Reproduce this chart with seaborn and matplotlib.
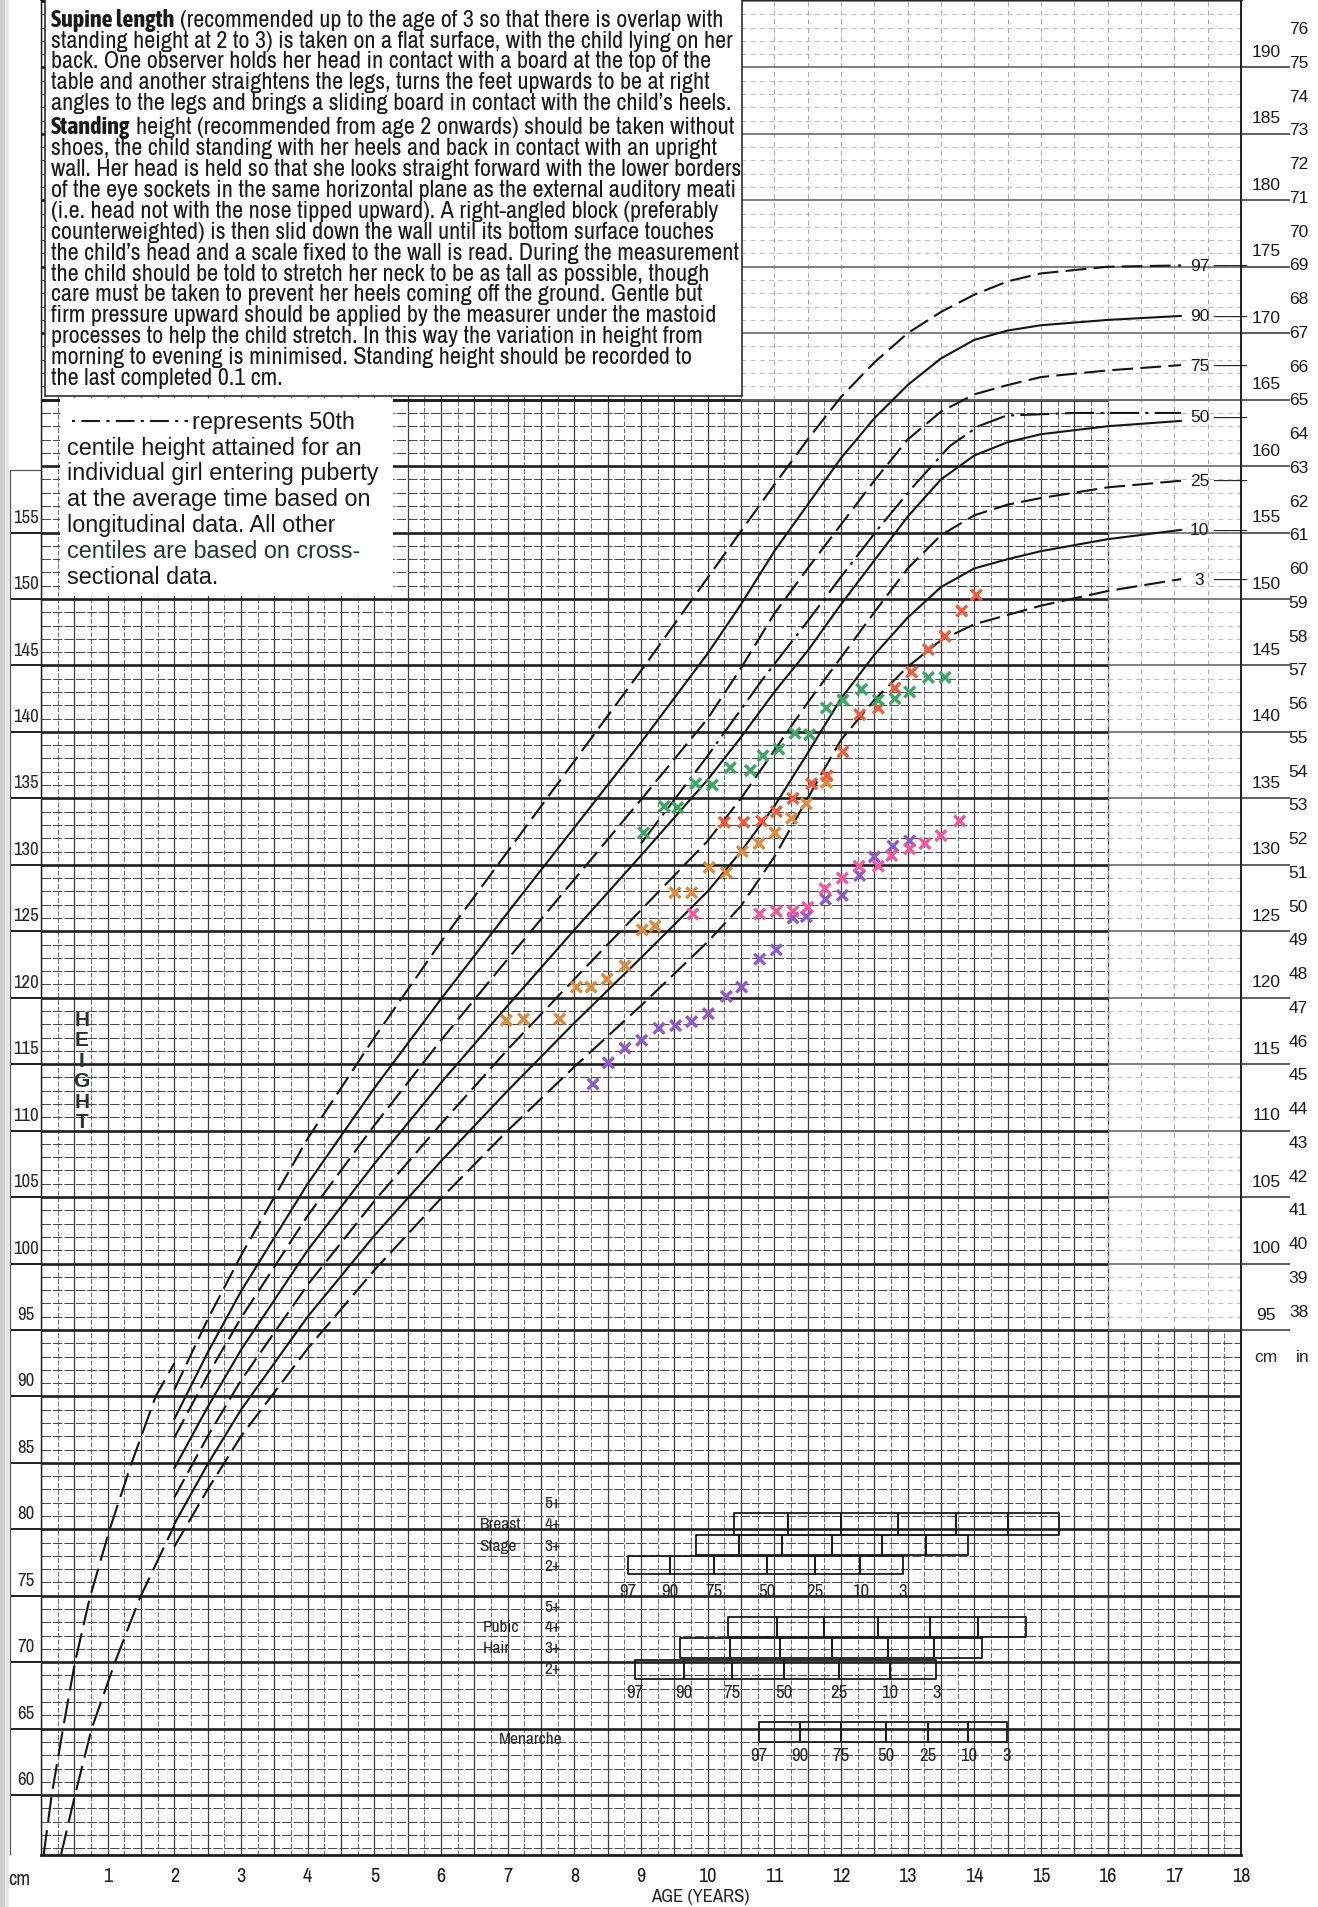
import numpy as np
import pandas as pd
import matplotlib
matplotlib.use("Agg")
import matplotlib.pyplot as plt
from matplotlib import font_manager
from matplotlib.font_manager import FontProperties
from matplotlib.patches import Rectangle
from matplotlib.lines import Line2D
import seaborn as sns

# ---------------------------------------------------------------------------
# Data
# ---------------------------------------------------------------------------
CENTILES = [97, 90, 75, 50, 25, 10, 3]
STD_AGE = [2, 2.5, 3, 4, 5, 6, 7, 8, 9, 10, 10.5, 11, 11.5, 12, 12.5, 13, 13.5, 14, 14.5, 15, 16, 17.1]
C97 = [90.5, 95.8, 100.6, 109.4, 117.0, 124.2, 131.0, 137.8, 144.6, 151.6, 155.1, 158.6, 162.0, 165.2, 167.8, 170.0, 171.6, 172.9, 173.9, 174.5, 175.0, 175.1]
C90 = [88.3, 93.3, 97.9, 106.0, 113.2, 119.9, 126.4, 132.8, 139.2, 145.9, 149.6, 153.6, 157.1, 160.6, 163.6, 166.1, 168.1, 169.5, 170.2, 170.6, 171.0, 171.3]
C75 = [86.9, 91.6, 95.9, 103.6, 110.4, 116.8, 122.9, 128.9, 134.9, 141.0, 144.8, 148.9, 152.3, 155.6, 158.9, 162.0, 164.1, 165.4, 166.1, 166.7, 167.2, 167.6]
C50 = [84.6, 89.2, 93.5, 101.0, 107.5, 113.6, 119.4, 125.1, 130.7, 136.4, 139.6, 143.0, 146.1, 149.6, 152.9, 156.2, 159.0, 160.8, 161.8, 162.4, 163.0, 163.4]
C25 = [82.4, 87.0, 91.2, 98.4, 104.7, 110.5, 116.1, 121.4, 126.6, 131.8, 135.0, 138.6, 142.2, 145.6, 149.0, 152.3, 154.8, 156.3, 157.1, 157.6, 158.4, 158.9]
C10 = [80.4, 84.9, 89.0, 96.0, 102.1, 107.7, 113.0, 118.1, 123.0, 128.0, 131.0, 134.4, 138.4, 142.5, 145.8, 148.6, 150.9, 152.3, 153.0, 153.6, 154.5, 155.2]
C3 = [78.7, 83.0, 87.0, 93.6, 99.5, 104.9, 110.0, 114.8, 119.4, 124.2, 126.9, 130.6, 135.0, 139.4, 142.4, 144.9, 146.9, 148.1, 148.8, 149.5, 150.6, 151.5]

# longitudinal 50th centile (dash-dot)
LONG_AGE = [9.0, 10.0, 10.83, 11.48, 12.02, 12.56, 13.09, 13.63, 14.06, 14.48, 15.5, 17.1]
LONG_CM = [131.6, 138.2, 144.0, 148.2, 151.8, 155.3, 158.5, 161.5, 163.0, 163.8, 164.0, 164.0]

# supine length 97th and 3rd
SUP97_AGE = [0.04, 0.16, 0.33, 0.51, 0.73, 1.03, 1.36, 1.72, 2.0]
SUP97_CM = [55.5, 60.0, 65.0, 70.0, 74.8, 80.0, 85.0, 90.0, 92.5]
SUP3_AGE = [0.30, 0.51, 0.76, 1.11, 1.48, 2.0]
SUP3_CM = [55.5, 60.0, 65.0, 70.0, 74.8, 80.3]

# plotted measurements of five children
PURPLE_AGE = [8.28, 8.51, 8.76, 9.01, 9.27, 9.52, 9.76, 10.01, 10.28, 10.51, 10.78, 11.03, 11.28, 11.48, 11.77, 12.02, 12.28, 12.50, 12.78, 13.03]
PURPLE_CM = [113.5, 115.1, 116.2, 116.8, 117.7, 117.9, 118.2, 118.8, 120.1, 120.8, 122.9, 123.6, 126.0, 126.1, 127.4, 127.7, 129.2, 130.6, 131.4, 131.8]
PINK_AGE = [9.78, 10.78, 11.03, 11.28, 11.50, 11.76, 12.02, 12.27, 12.56, 12.76, 13.03, 13.26, 13.50, 13.78]
PINK_CM = [126.3, 126.3, 126.5, 126.5, 126.8, 128.2, 129.0, 129.9, 129.9, 130.7, 131.2, 131.6, 132.2, 133.3]
TAN_AGE = [6.98, 7.24, 7.78, 8.03, 8.25, 8.49, 8.76, 9.02, 9.21, 9.51, 9.76, 10.02, 10.28, 10.52, 10.77, 11.01, 11.26, 11.48, 11.78]
TAN_CM = [118.3, 118.4, 118.4, 120.8, 120.8, 121.4, 122.4, 125.1, 125.4, 127.9, 127.9, 129.8, 129.4, 131.0, 131.6, 132.4, 133.5, 134.6, 136.2]
RED_AGE = [10.25, 10.54, 10.81, 11.03, 11.28, 11.56, 11.79, 12.03, 12.28, 12.56, 12.81, 13.06, 13.31, 13.56, 13.81, 14.03]
RED_CM = [133.2, 133.2, 133.3, 134.0, 135.0, 136.1, 136.7, 138.5, 141.3, 141.8, 143.3, 144.5, 146.2, 147.2, 149.1, 150.3]
GREEN_AGE = [9.04, 9.35, 9.55, 9.82, 10.07, 10.34, 10.64, 10.83, 11.07, 11.31, 11.53, 11.78, 12.03, 12.31, 12.56, 12.81, 13.03, 13.31, 13.56]
GREEN_CM = [132.4, 134.4, 134.3, 136.1, 136.0, 137.3, 137.1, 138.2, 138.7, 139.9, 139.8, 141.8, 142.4, 143.2, 142.4, 142.5, 143.0, 144.1, 144.1]

# pubertal stage bars: centile ages (97 ... 3) per row
BREAST_4 = [10.40, 11.20, 12.00, 12.85, 13.72, 14.51, 15.27]
BREAST_3 = [9.82, 10.47, 11.12, 11.87, 12.61, 13.28, 13.91]
BREAST_2 = [8.81, 9.44, 10.10, 10.89, 11.61, 12.29, 12.93]
PUBIC_4 = [10.31, 11.04, 11.75, 12.55, 13.34, 14.06, 14.77]
PUBIC_3 = [9.58, 10.34, 11.08, 11.87, 12.70, 13.39, 14.11]
PUBIC_2 = [8.91, 9.64, 10.36, 11.15, 11.97, 12.73, 13.43]
MENARCHE = [10.77, 11.39, 12.00, 12.67, 13.31, 13.91, 14.49]

LEFT_CM_LABELS = list(range(60, 160, 5))
RIGHT_CM_LABELS = list(range(95, 195, 5))
INCH_LABELS = list(range(38, 77))
AGE_TICKS = list(range(1, 19))

# ---------------------------------------------------------------------------
# Fonts: look for a condensed sans for the narrow lettering of the chart
# ---------------------------------------------------------------------------
REG = "Liberation Sans"
ttf = font_manager.fontManager.ttflist


def find_condensed(bold):
    want = 700 if bold else 400
    prefs = []
    for f in ttf:
        if f.style != "normal":
            continue
        w = f.weight if isinstance(f.weight, int) else (700 if "bold" in str(f.weight) else 400)
        if abs(w - want) > 100:
            continue
        st = str(f.stretch)
        if f.name == "Liberation Sans Narrow":
            prefs.append((0, f.fname))
        elif "Condensed" in f.name or "Narrow" in f.name:
            prefs.append((1, f.fname))
        elif st in ("condensed", "semi-condensed", "75", "87") and "Sans" in f.name and "Mono" not in f.name:
            prefs.append((2, f.fname))
    prefs.sort()
    return prefs[0][1] if prefs else None


COND_R = find_condensed(False)
COND_B = find_condensed(True)
HAS_COND = COND_R is not None


def nfp(size, bold=False):
    if HAS_COND:
        path = COND_B if (bold and COND_B) else COND_R
        return FontProperties(fname=path, size=size)
    return FontProperties(family=REG, size=size, weight="bold" if bold else "normal")


# sizes for narrow lettering (condensed font vs. fallback regular)
SZ_TICK = 14.5 if HAS_COND else 13
SZ_LEFT = 13.5 if HAS_COND else 12
SZ_STAGE = 12.5 if HAS_COND else 11
SZ_STAGEN = 13.5 if HAS_COND else 12

sns.set_theme(style="white")
plt.rcParams["font.family"] = [REG, "DejaVu Sans"]

W, H = 1318, 1908
fig = plt.figure(figsize=(W / 100, H / 100), dpi=100)
fig.patch.set_facecolor("white")
AX_L, AX_R, AX_T, AX_B = 41, 1241, 0, 1856
ax = fig.add_axes([AX_L / W, 1 - AX_B / H, (AX_R - AX_L) / W, (AX_B - AX_T) / H])
X0, X1 = 0.0, 18.0
Y1 = 150 + 600 / 13.29
Y0 = 150 - (AX_B - 600) / 13.29
ax.set_xlim(X0, X1)
ax.set_ylim(Y0, Y1)
ax.set_facecolor("white")


def ftext(x, y, s, **kw):
    kw.setdefault("zorder", 12)
    return fig.text(x / W, 1 - y / H, s, **kw)


# ---------------------------------------------------------------------------
# Grid
# ---------------------------------------------------------------------------
def draw_grid(a0, a1, c0, c1, faint=False):
    q = np.arange(np.ceil(a0 * 4) / 4, a1 + 1e-6, 0.25)
    halves = [v for v in q if abs(v * 2 - round(v * 2)) < 1e-6]
    quarters = [v for v in q if abs(v * 2 - round(v * 2)) >= 1e-6]
    cms = np.arange(np.ceil(c0), c1 + 1e-6, 1.0)
    ones = [v for v in cms if int(round(v)) % 5 != 0]
    fives = [v for v in cms if int(round(v)) % 5 == 0]
    if faint:
        ax.vlines(halves, c0, c1, colors="#a8a8a8", lw=0.7, linestyles=(0, (5, 4)), zorder=1)
        ax.hlines(ones, a0, a1, colors="#b8b8b8", lw=0.6, linestyles=(0, (6, 5)), zorder=1)
        ax.hlines(fives, a0, a1, colors="#6a6a6a", lw=1.2, zorder=1.5)
    else:
        ax.vlines(halves, c0, c1, colors="#3c3c3c", lw=0.9, zorder=1)
        ax.vlines(quarters, c0, c1, colors="#6a6a6a", lw=0.7, linestyles=(0, (5, 2)), zorder=1)
        ax.hlines(ones, a0, a1, colors="#4a4a4a", lw=0.75, linestyles=(0, (9, 2)), zorder=1)
        ax.hlines(fives, a0, a1, colors="#1e1e1e", lw=1.9, zorder=1.5)


draw_grid(0, 16, Y0, 165)
draw_grid(16, 18, Y0, 95)
draw_grid(0, 10.5, 165, Y1)
draw_grid(10.5, 18, 165, Y1, faint=True)
draw_grid(16, 18, 95, 165, faint=True)

for sp in ["left", "right", "top", "bottom"]:
    ax.spines[sp].set_color("#1e1e1e")
ax.spines["bottom"].set_linewidth(2.0)
ax.spines["top"].set_linewidth(2.0)
ax.spines["left"].set_linewidth(1.0)
ax.spines["right"].set_linewidth(1.4)

# ---------------------------------------------------------------------------
# Centile curves
# ---------------------------------------------------------------------------
curve_vals = dict(zip(CENTILES, [C97, C90, C75, C50, C25, C10, C3]))
for c in CENTILES:
    sns.lineplot(x=STD_AGE, y=curve_vals[c], ax=ax, color="#151515", lw=1.5,
                 sort=False, estimator=None, zorder=3)
    if c in (97, 75, 25, 3):
        ax.lines[-1].set_dashes((10, 3.5))

sns.lineplot(x=LONG_AGE, y=LONG_CM, ax=ax, color="#151515", lw=1.5, sort=False, estimator=None, zorder=3)
ax.lines[-1].set_dashes((14, 3, 1.5, 3))
for a, v in ((SUP97_AGE, SUP97_CM), (SUP3_AGE, SUP3_CM)):
    sns.lineplot(x=a, y=v, ax=ax, color="#151515", lw=1.5, sort=False, estimator=None, zorder=3)
    ax.lines[-1].set_dashes((12, 4))

for c in CENTILES:
    yv = curve_vals[c][-1] if c != 50 else 163.7
    ax.text(17.38, yv, str(c), ha="center", va="center", fontsize=12.5, family=REG,
            color="#1a1a1a", zorder=5)
    ax.text(17.84, yv, "——", ha="center", va="center", fontsize=12, family=REG,
            color="#1a1a1a", zorder=5)

# ---------------------------------------------------------------------------
# Measurements
# ---------------------------------------------------------------------------
pts = pd.concat([
    pd.DataFrame({"age": PURPLE_AGE, "cm": PURPLE_CM, "child": "purple"}),
    pd.DataFrame({"age": PINK_AGE, "cm": PINK_CM, "child": "pink"}),
    pd.DataFrame({"age": TAN_AGE, "cm": TAN_CM, "child": "tan"}),
    pd.DataFrame({"age": RED_AGE, "cm": RED_CM, "child": "red"}),
    pd.DataFrame({"age": GREEN_AGE, "cm": GREEN_CM, "child": "green"}),
], ignore_index=True)
palette = {"purple": "#8d5bc9", "pink": "#f2579e", "tan": "#dc8a3e", "red": "#f25a3c", "green": "#3fa565"}
sns.scatterplot(data=pts, x="age", y="cm", hue="child", palette=palette, marker="x",
                s=60, linewidth=2.4, legend=False, ax=ax, zorder=4)

# ---------------------------------------------------------------------------
# Pubertal stage bars
# ---------------------------------------------------------------------------
def stage_row(ages, y0, y1):
    segs = [(ages[i], ages[i + 1] - ages[i]) for i in range(len(ages) - 1)]
    ax.broken_barh(segs, (y0, y1 - y0), facecolors="none", edgecolors="#1a1a1a", lw=1.3, zorder=3)


stage_row(BREAST_4, 79.6, 81.2)
stage_row(BREAST_3, 78.1, 79.6)
stage_row(BREAST_2, 76.6, 78.0)
stage_row(PUBIC_4, 71.9, 73.4)
stage_row(PUBIC_3, 70.3, 71.8)
stage_row(PUBIC_2, 68.7, 70.2)
stage_row(MENARCHE, 64.0, 65.5)

for lab, yv in zip(["5+", "4+", "3+", "2+"], [82.05, 80.4, 78.8, 77.3]):
    ax.text(7.55, yv, lab, ha="left", va="center", fontproperties=nfp(SZ_STAGE), zorder=5)
for lab, yv in zip(["5+", "4+", "3+", "2+"], [74.2, 72.7, 71.1, 69.5]):
    ax.text(7.55, yv, lab, ha="left", va="center", fontproperties=nfp(SZ_STAGE), zorder=5)
ax.text(6.58, 80.4, "Breast", ha="left", va="center", fontproperties=nfp(SZ_STAGE), zorder=5)
ax.text(6.58, 78.8, "Stage", ha="left", va="center", fontproperties=nfp(SZ_STAGE), zorder=5)
ax.text(6.63, 72.7, "Pubic", ha="left", va="center", fontproperties=nfp(SZ_STAGE), zorder=5)
ax.text(6.63, 71.1, "Hair", ha="left", va="center", fontproperties=nfp(SZ_STAGE), zorder=5)
ax.text(7.35, 64.25, "Menarche", ha="center", va="center", fontproperties=nfp(SZ_STAGE), zorder=5)
for ages, yv in ((BREAST_2, 75.35), (PUBIC_2, 67.75), (MENARCHE, 63.0)):
    for a, c in zip(ages, CENTILES):
        ax.text(a, yv, str(c), ha="center", va="center", fontproperties=nfp(SZ_STAGEN), zorder=5)

# ---------------------------------------------------------------------------
# Axis labels and margins
# ---------------------------------------------------------------------------
ax.set_xticks(AGE_TICKS)
ax.set_xticklabels([str(t) for t in AGE_TICKS], fontproperties=nfp(SZ_TICK), color="#1a1a1a")
ax.tick_params(axis="x", length=0, pad=8)
ax.set_yticks([])
ax.set_xlabel("")
ax.set_ylabel("")
ftext(8, 1880, "cm", ha="left", va="center", fontproperties=nfp(SZ_TICK))
ftext(700, 1897, "AGE (YEARS)", ha="center", va="center", fontproperties=nfp(SZ_LEFT))

for c in LEFT_CM_LABELS:
    ax.text(-0.22, c + 1.2, str(c), ha="center", va="center", fontproperties=nfp(SZ_LEFT),
            clip_on=False, zorder=5)
ax.hlines(LEFT_CM_LABELS, -0.47, 0, colors="#1e1e1e", lw=1.4, clip_on=False)
ax.vlines([-0.465], Y0, 159.7, colors="#555555", lw=0.9, clip_on=False)
ax.hlines([159.7], -0.465, 0, colors="#555555", lw=0.9, clip_on=False)

for c in RIGHT_CM_LABELS:
    ax.text(18.38, c + 1.2, str(c), ha="center", va="center", fontsize=12.5, family=REG,
            color="#1a1a1a", clip_on=False, zorder=5)
ax.hlines(RIGHT_CM_LABELS, 18, 18.73, colors="#444444", lw=1.2, clip_on=False)
ftext(1266, 1357, "cm", ha="center", va="center", fontsize=12.5, family=REG)
ftext(1303, 1357, "in", ha="center", va="center", fontsize=12.5, family=REG)

# inch scale on the far right
axi = fig.add_axes([1316.5 / W, 1 - AX_B / H, 0.0005, AX_B / H])
axi.set_ylim(Y0 / 2.54, Y1 / 2.54)
axi.set_yticks(INCH_LABELS)
axi.set_yticklabels([str(i) for i in INCH_LABELS], family=REG, fontsize=12.5, color="#1a1a1a")
axi.tick_params(axis="y", direction="out", length=5, width=1, pad=1, colors="#1a1a1a")
axi.set_xticks([])
for sp in axi.spines.values():
    sp.set_visible(False)
axi.patch.set_alpha(0)

# HEIGHT letters
for ch, yy in zip("HEIGHT", [1020, 1041, 1061.5, 1082, 1102.5, 1123]):
    ftext(81.7, yy, ch, ha="center", va="center", fontsize=15, family=REG, weight="bold",
          color="#263326")

# scanner shadow on the far left
fig.add_artist(Rectangle((0, 0), 5 / W, 1, transform=fig.transFigure, color="#cfcfcf", zorder=9, lw=0))
fig.add_artist(Rectangle((5 / W, 0), 4 / W, 1, transform=fig.transFigure, color="#e8e8e8", zorder=9, lw=0))

# ---------------------------------------------------------------------------
# Text boxes
# ---------------------------------------------------------------------------
fig.add_artist(Rectangle((45 / W, 1 - 396.7 / H), (742 - 45) / W, 396.7 / H,
                         transform=fig.transFigure, facecolor="white", edgecolor="#1e1e1e",
                         lw=1.1, zorder=10))
fig.add_artist(Rectangle((60 / W, 1 - 597 / H), (393 - 60) / W, (597 - 399) / H,
                         transform=fig.transFigure, facecolor="white", edgecolor="none",
                         lw=0, zorder=10))

renderer = fig.canvas.get_renderer()


def width_px(s, fp):
    t = fig.text(0, 0, s, fontproperties=fp)
    w = t.get_window_extent(renderer).width
    t.remove()
    return w


BOX1 = [
    ("Supine length", "(recommended up to the age of 3 so that there is overlap with"),
    ("", "standing height at 2 to 3) is taken on a flat surface, with the child lying on her"),
    ("", "back. One observer holds her head in contact with a board at the top of the"),
    ("", "table and another straightens the legs, turns the feet upwards to be at right"),
    ("", "angles to the legs and brings a sliding board in contact with the child\u2019s heels."),
    ("Standing", "height (recommended from age 2 onwards) should be taken without"),
    ("", "shoes, the child standing with her heels and back in contact with an upright"),
    ("", "wall. Her head is held so that she looks straight forward with the lower borders"),
    ("", "of the eye sockets in the same horizontal plane as the external auditory meati"),
    ("", "(i.e. head not with the nose tipped upward). A right-angled block (preferably"),
    ("", "counterweighted) is then slid down the wall until its bottom surface touches"),
    ("", "the child\u2019s head and a scale fixed to the wall is read. During the measurement"),
    ("", "the child should be told to stretch her neck to be as tall as possible, though"),
    ("", "care must be taken to prevent her heels coming off the ground. Gentle but"),
    ("", "firm pressure upward should be applied by the measurer under the mastoid"),
    ("", "processes to help the child stretch. In this way the variation in height from"),
    ("", "morning to evening is minimised. Standing height should be recorded to"),
    ("", "the last completed 0.1 cm."),
]
box1_y = [20.7, 41.6, 62.5, 83.4, 104.3] + [128.3 + 20.9 * i for i in range(13)]
size1 = 12 * 677 / width_px(BOX1[1][1], nfp(12))
if not HAS_COND:
    size1 = min(size1, 13.2)
fp1, fp1b = nfp(size1), nfp(size1, bold=True)
space1 = width_px("a a", fp1) - width_px("aa", fp1)
for (b, r), yc in zip(BOX1, box1_y):
    x = 51
    yb = yc + 6
    if b:
        ftext(x, yb, b, ha="left", va="baseline", fontproperties=fp1b, color="#1a1a1a")
        x += width_px(b, fp1b) + space1
    ftext(x, yb, r, ha="left", va="baseline", fontproperties=fp1, color="#1a1a1a")

BOX2 = ["represents 50th", "centile height attained for an", "individual girl entering puberty",
        "at the average time based on", "longitudinal data. All other",
        "centiles are based on cross-", "sectional data."]
box2_y = [421.7 + 25.8 * i for i in range(7)]
size2 = 12 * 313 / width_px(BOX2[2], FontProperties(family=REG, size=12))
for i, (s, yc) in enumerate(zip(BOX2, box2_y)):
    x = 191.7 if i == 0 else 66.7
    col = "#1f3a26" if i == 5 else "#1a1a1a"
    ftext(x, yc + 7, s, ha="left", va="baseline", fontsize=size2, family=REG, color=col)
fig.add_artist(Line2D([72 / W, 188 / W], [1 - 421.7 / H, 1 - 421.7 / H], transform=fig.transFigure,
                      color="#1a1a1a", lw=1.5, dashes=(1.5, 3, 9, 3), zorder=12))

fig.savefig("out.png", dpi=100)
